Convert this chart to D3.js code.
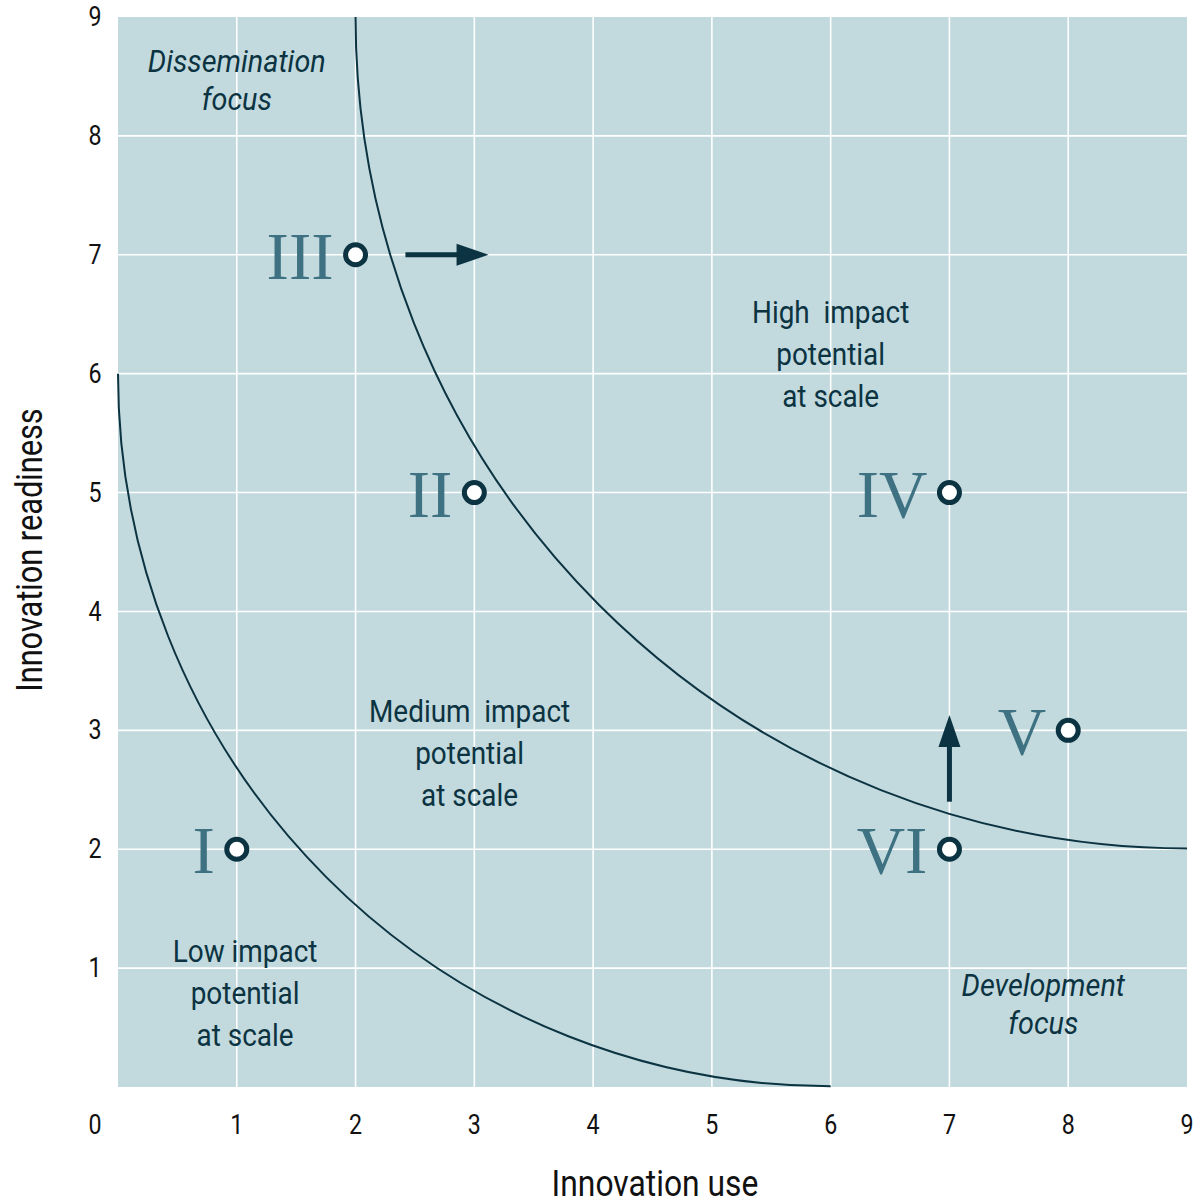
<!DOCTYPE html>
<html><head><meta charset="utf-8">
<script src="https://cdn.jsdelivr.net/npm/d3@7"></script>
<style>
body{margin:0;background:#fff;}
svg text{font-family:Roboto,"DejaVu Sans",sans-serif;}
</style></head>
<body>
<svg id="chart" width="1200" height="1203"></svg>
<script>
// ---- data ----
const xTicks = [1,2,3,4,5,6,7,8,9];
const yTicks = [1,2,3,4,5,6,7,8,9];
const cornerLabel = "0";
const pointLabels = ["I","II","III","IV","V","VI"];
const pointX = [1,3,2,7,8,7];
const pointY = [2,5,7,5,3,2];
// boundary curves: quarter circles (center x, center y, radius) in data units
const curveCX = [6,9];
const curveCY = [6,9];
const curveR  = [6,7];
// arrows: start / end in data units
const arrowX0 = [2.42, 7];
const arrowY0 = [7, 2.4];
const arrowX1 = [3.12, 7];
const arrowY1 = [7, 3.13];
// region labels
const regionLines = [["High  impact","potential","at scale"],["Medium  impact","potential","at scale"],["Low impact","potential","at scale"]];
const regionX = [6.0, 2.96, 1.07];
const regionY = [6.516, 3.157, 1.137];
const focusLines = [["Dissemination","focus"],["Development","focus"]];
const focusX = [1.0, 7.79];
const focusY = [8.63, 0.859];
const xTitle = "Innovation use";
const yTitle = "Innovation readiness";

// ---- layout ----
const L = 118, R = 1187, T = 17, B = 1087;
const x = d3.scaleLinear().domain([0,9]).range([L,R]);
const y = d3.scaleLinear().domain([0,9]).range([B,T]);
const svg = d3.select("#chart");
const dark = "#0b3341", roman = "#3e7282", bg = "#c2d9de";
const SX = 0.86;

function label(parent, px, py, str, size, opts={}) {
  const t = parent.append("text")
    .attr("transform", `translate(${px},${py})${opts.rotate?` rotate(${opts.rotate})`:""} scale(${opts.sx||SX},1)`)
    .attr("text-anchor", opts.anchor||"middle").attr("dominant-baseline","central")
    .attr("font-size", size).attr("fill", opts.fill||"#111")
    .attr("font-style", opts.italic?"italic":null)
    .attr("font-weight", opts.weight||null)
    .style("white-space","pre")
    .text(str);
  return t;
}

svg.append("rect").attr("x",L).attr("y",T).attr("width",R-L).attr("height",B-T).attr("fill",bg);

// grid
svg.append("g").selectAll("line").data(xTicks.filter(d=>d<9)).join("line")
  .attr("x1",d=>x(d)).attr("x2",d=>x(d)).attr("y1",T).attr("y2",B)
  .attr("stroke","#fff").attr("stroke-width",1.6);
svg.append("g").selectAll("line").data(yTicks.filter(d=>d<9)).join("line")
  .attr("y1",d=>y(d)).attr("y2",d=>y(d)).attr("x1",L).attr("x2",R)
  .attr("stroke","#fff").attr("stroke-width",1.6);

// tick labels
const gt = svg.append("g");
xTicks.forEach(d=>label(gt, x(d), 1125, String(d), 27));
yTicks.forEach(d=>label(gt, 95, y(d), String(d), 27));
label(gt, 95, 1125, cornerLabel, 27);

// axis titles
label(svg, 655, 1183, xTitle, 37);
label(svg, 29, 550, yTitle, 37, {rotate:-90, sx:0.83});

// curves
curveCX.forEach((cx,i)=>{
  const p = d3.path();
  const r = x(curveR[i]) - x(0);
  p.arc(x(cx), y(curveCY[i]), r, Math.PI, Math.PI/2, true);
  svg.append("path").attr("d",p.toString()).attr("fill","none").attr("stroke",dark).attr("stroke-width",2);
});

// arrows
arrowX0.forEach((x0,i)=>{
  const ax0=x(x0), ay0=y(arrowY0[i]), ax1=x(arrowX1[i]), ay1=y(arrowY1[i]);
  const ang = Math.atan2(ay1-ay0, ax1-ax0);
  const hl = 32, hw = 11;
  const bx = ax1 - hl*Math.cos(ang), by = ay1 - hl*Math.sin(ang);
  svg.append("line").attr("x1",ax0).attr("y1",ay0).attr("x2",bx+2*Math.cos(ang)).attr("y2",by+2*Math.sin(ang))
    .attr("stroke",dark).attr("stroke-width",5);
  const nx = -Math.sin(ang), ny = Math.cos(ang);
  svg.append("path").attr("d",`M${ax1},${ay1}L${bx+nx*hw},${by+ny*hw}L${bx-nx*hw},${by-ny*hw}Z`).attr("fill",dark);
});

// region labels
const gr = svg.append("g");
regionLines.forEach((lines,i)=>{
  lines.forEach((s,j)=>label(gr, x(regionX[i]), y(regionY[i])+j*42, s, 31, {fill:dark, sx:0.9}));
});
focusLines.forEach((lines,i)=>{
  lines.forEach((s,j)=>label(gr, x(focusX[i]), y(focusY[i])+j*38, s, 32, {fill:dark, italic:true, sx:0.9}));
});

// points
const pts = pointLabels.map((l,i)=>({l, x:pointX[i], y:pointY[i]}));
svg.append("g").selectAll("text").data(pts).join("text")
  .attr("x",d=>x(d.x)-22).attr("y",d=>y(d.y)+1).attr("text-anchor","end").attr("dominant-baseline","central")
  .attr("font-size",67).attr("fill",roman)
  .style("font-family","'Liberation Serif','DejaVu Serif',serif")
  .text(d=>d.l);
svg.append("g").selectAll("circle").data(pts).join("circle")
  .attr("cx",d=>x(d.x)).attr("cy",d=>y(d.y)).attr("r",10)
  .attr("fill","#fff").attr("stroke",dark).attr("stroke-width",5);
</script>
</body></html>
